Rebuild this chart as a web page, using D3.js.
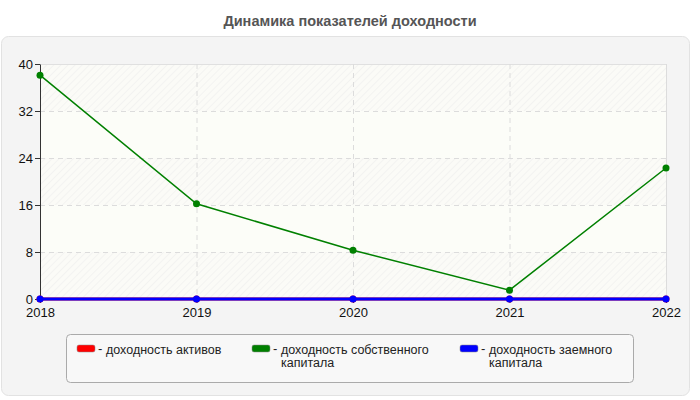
<!DOCTYPE html>
<html>
<head>
<meta charset="utf-8">
<script src="https://cdn.jsdelivr.net/npm/d3@7"></script>
<style>
  body { margin: 0; background: #fff; }
  svg text { font-family: "Liberation Sans", Arial, sans-serif; }
</style>
</head>
<body>
<div id="chart"></div>
<script>
// chart data
let years = [2018, 2019, 2020, 2021, 2022]
let seriesNames = ["доходность активов", "доходность собственного капитала", "доходность заемного капитала"]
let seriesColors = ["#ff0000", "#008000", "#0000ff"]
let assetsReturn = [0, 0, 0, 0, 0]
let equityReturn = [38.1, 16.2, 8.3, 1.5, 22.3]
let debtReturn = [0, 0, 0, 0, 0]
let yTicks = [0, 8, 16, 24, 32, 40]

let width = 700, height = 400
let margin = { left: 40, right: 34, top: 64, bottom: 101 }
let plotW = width - margin.left - margin.right
let plotH = height - margin.top - margin.bottom

var svg = d3.select("#chart").append("svg")
  .attr("width", width)
  .attr("height", height)

// pattern for hatched bands
var defs = svg.append("defs")
var pat = defs.append("pattern")
  .attr("id", "hatch")
  .attr("patternUnits", "userSpaceOnUse")
  .attr("width", 5).attr("height", 5)
  .attr("patternTransform", "rotate(45)")
pat.append("rect").attr("width", 5).attr("height", 5).attr("fill", "#fbfbf7")
pat.append("line").attr("x1", 0).attr("y1", 0).attr("x2", 0).attr("y2", 5)
  .attr("stroke", "#ececec").attr("stroke-width", 1)

// title
svg.append("text")
  .attr("x", width / 2)
  .attr("y", 26)
  .attr("text-anchor", "middle")
  .style("font-size", "14.5px")
  .style("font-weight", "bold")
  .style("fill", "#555")
  .text("Динамика показателей доходности")

// outer panel
svg.append("rect")
  .attr("x", 1.5).attr("y", 36.5)
  .attr("width", 688).attr("height", 359)
  .attr("rx", 7)
  .attr("fill", "#f4f4f4")
  .attr("stroke", "#e2e2e2")

var g = svg.append("g")
  .attr("transform", "translate(" + margin.left + "," + margin.top + ")")

var xScale = d3.scalePoint()
  .domain(years)
  .range([0, plotW])

var yScale = d3.scaleLinear()
  .domain([0, 40])
  .range([plotH, 0])

// background bands
for (let i = 0; i < yTicks.length - 1; i++) {
  g.append("rect")
    .attr("x", 0)
    .attr("y", yScale(yTicks[i + 1]))
    .attr("width", plotW)
    .attr("height", yScale(yTicks[i]) - yScale(yTicks[i + 1]))
    .attr("fill", i % 2 === 0 ? "url(#hatch)" : "#fcfdf8")
}

// grid
g.selectAll(".hgrid").data(yTicks.slice(1, -1)).enter().append("line")
  .attr("x1", 0).attr("x2", plotW)
  .attr("y1", d => yScale(d) + 0.5).attr("y2", d => yScale(d) + 0.5)
  .attr("stroke", "#dcdcdc").attr("stroke-dasharray", "5,4")
g.append("line")
  .attr("x1", 0).attr("x2", plotW)
  .attr("y1", 0.5).attr("y2", 0.5)
  .attr("stroke", "#e0e0e0")
g.selectAll(".vgrid").data(years.slice(1, -1)).enter().append("line")
  .attr("x1", d => xScale(d) + 0.5).attr("x2", d => xScale(d) + 0.5)
  .attr("y1", 0).attr("y2", plotH)
  .attr("stroke", "#dcdcdc").attr("stroke-dasharray", "5,4")
g.append("line")
  .attr("x1", plotW + 0.5).attr("x2", plotW + 0.5)
  .attr("y1", 0).attr("y2", plotH)
  .attr("stroke", "#dcdcdc")

// axes
var yAxis = g.append("g")
  .call(d3.axisLeft(yScale).tickValues(yTicks).tickSize(5).tickSizeOuter(0))
yAxis.select(".domain").attr("stroke", "#333")
yAxis.selectAll("line").attr("stroke", "#333")
yAxis.selectAll("text").style("font-size", "13px").style("fill", "#111").attr("x", -7)

var xAxis = g.append("g")
  .attr("transform", "translate(0," + plotH + ")")
  .call(d3.axisBottom(xScale).tickSize(4).tickSizeOuter(0))
xAxis.select(".domain").attr("stroke", "#333")
xAxis.selectAll("line").attr("stroke", "#333")
xAxis.selectAll("text").style("font-size", "13px").style("fill", "#111").attr("y", 9)

// lines
var line = d3.line()
  .x((d, i) => xScale(years[i]))
  .y(d => yScale(d))

let allSeries = [assetsReturn, equityReturn, debtReturn]
allSeries.forEach((s, k) => {
  g.append("path")
    .datum(s)
    .attr("fill", "none")
    .attr("stroke", seriesColors[k])
    .attr("stroke-width", k === 1 ? 1.5 : 3)
    .attr("d", line)
  g.selectAll(".pt" + k).data(s).enter().append("circle")
    .attr("cx", (d, i) => xScale(years[i]))
    .attr("cy", d => yScale(d))
    .attr("r", 3.5)
    .attr("fill", seriesColors[k])
})

// legend
svg.append("rect")
  .attr("x", 66.5).attr("y", 334.5)
  .attr("width", 567).attr("height", 48)
  .attr("rx", 4)
  .attr("fill", "#f8f8f8")
  .attr("stroke", "#aaa")

let legendX = [77, 252, 460]
let legendLines = [["доходность активов"], ["доходность собственного", "капитала"], ["доходность заемного", "капитала"]]
seriesNames.forEach((name, k) => {
  let lg = svg.append("g").attr("transform", "translate(" + legendX[k] + ",345)")
  lg.append("rect")
    .attr("x", 0).attr("y", 0)
    .attr("width", 18).attr("height", 7)
    .attr("rx", 2)
    .attr("fill", seriesColors[k])
    .attr("stroke", "#888").attr("stroke-width", 0.5)
  lg.append("text")
    .attr("x", 21).attr("y", 8)
    .style("font-size", "13px")
    .style("fill", "#222")
    .text("-")
  legendLines[k].forEach((ln, j) => {
    lg.append("text")
      .attr("x", 29)
      .attr("y", 9 + j * 12.5)
      .style("font-size", "12.5px")
      .style("fill", "#222")
      .text(ln)
  })
})
</script>
</body>
</html>
